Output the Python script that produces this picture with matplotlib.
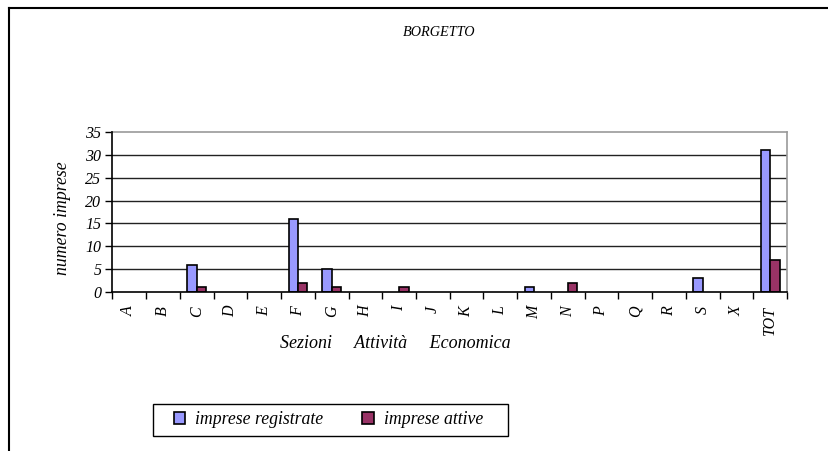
import matplotlib
matplotlib.use("Agg")
import matplotlib.pyplot as plt
from matplotlib.lines import Line2D
from matplotlib.patches import Patch, Rectangle
import numpy as np

# Data
sezioni = ["A", "B", "C", "D", "E", "F", "G", "H", "I", "J",
           "K", "L", "M", "N", "P", "Q", "R", "S", "X", "TOT"]
registrate = [0, 0, 6, 0, 0, 16, 5, 0, 0, 0, 0, 0, 1, 0, 0, 0, 0, 3, 0, 31]
attive = [0, 0, 1, 0, 0, 2, 1, 0, 1, 0, 0, 0, 0, 2, 0, 0, 0, 0, 0, 7]
y_ticks = [0, 5, 10, 15, 20, 25, 30, 35]

BLUE = "#9999FF"
RED = "#993366"

plt.rcParams['font.family'] = ['Liberation Serif', 'DejaVu Serif']
plt.rcParams['font.style'] = 'italic'

W, H = 829, 451
fig = plt.figure(figsize=(W / 100, H / 100), dpi=100)
ax = fig.add_axes([112.5 / W, 1 - 292 / H, (787 - 112.5) / W, (292 - 132) / H])

x = np.arange(len(sezioni))
bw = 0.28
# zero values are not drawn (as in the original spreadsheet chart)
reg = np.array(registrate, dtype=float)
att = np.array(attive, dtype=float)
ax.bar(x[reg > 0] - bw / 2, reg[reg > 0], bw, color=BLUE, edgecolor="black", linewidth=1.2, zorder=3)
ax.bar(x[att > 0] + bw / 2, att[att > 0], bw, color=RED, edgecolor="black", linewidth=1.2, zorder=3)

ax.set_xlim(-0.5, len(sezioni) - 0.5)
ax.set_ylim(0, 35)
ax.set_yticks(y_ticks)
ax.set_yticklabels([str(v) for v in y_ticks], fontsize=11.5, style='italic')

# category labels at centres, tick marks between categories
ax.set_xticks(x)
ax.set_xticklabels(sezioni, rotation=90, fontsize=11.5, style='italic')
ax.tick_params(axis='x', which='major', length=0, pad=10)
ax.set_xticks(np.arange(-0.5, len(sezioni)), minor=True)
ax.tick_params(axis='x', which='minor', length=5, direction='out', width=1)
ax.tick_params(axis='y', length=5, direction='out', width=1, pad=3)

for v in y_ticks[1:-1]:
    ax.axhline(v, color="#222222", linewidth=1, zorder=1)

for s in ["top", "right"]:
    ax.spines[s].set_color("#999999")
    ax.spines[s].set_linewidth(1.2)
for s in ["left", "bottom"]:
    ax.spines[s].set_color("black")
    ax.spines[s].set_linewidth(1.2)
    ax.spines[s].set_zorder(4)

fig.text(63 / W, 1 - 218 / H, "numero imprese", fontsize=12.8, style='italic',
         rotation=90, ha='center', va='center')
fig.text(439 / W, 1 - 33 / H, "BORGETTO", fontsize=10.3, style='italic', ha='center', va='center')
fig.text(395 / W, 1 - 343 / H, "Sezioni     Attività     Economica", fontsize=13, style='italic',
         ha='center', va='center')

# legend: entries without frame, box drawn separately (wider side padding)
handles = [Patch(facecolor=BLUE, edgecolor="black", linewidth=1.2),
           Patch(facecolor=RED, edgecolor="black", linewidth=1.2)]
leg = fig.legend(handles, ["imprese registrate", "imprese attive"], ncol=2,
                 loc='center', bbox_to_anchor=(328.5 / W, 1 - 420 / H),
                 frameon=False, fontsize=12.8, handlelength=0.65, handleheight=0.65,
                 handletextpad=0.55, columnspacing=2.2, borderpad=0.45, borderaxespad=0)
fig.add_artist(Rectangle((153 / W, 1 - 436 / H), (508 - 153) / W, (436 - 404) / H,
                         transform=fig.transFigure, facecolor="none", edgecolor="black", linewidth=1))

# outer frame of the chart object (left and top edges visible)
fig.add_artist(Line2D([9 / W, 9 / W], [0, 1 - 8 / H], transform=fig.transFigure, color="black", linewidth=1.5))
fig.add_artist(Line2D([9 / W, 1], [1 - 8 / H, 1 - 8 / H], transform=fig.transFigure, color="black", linewidth=1.5))

fig.savefig("out.png", dpi=100, facecolor="white")
